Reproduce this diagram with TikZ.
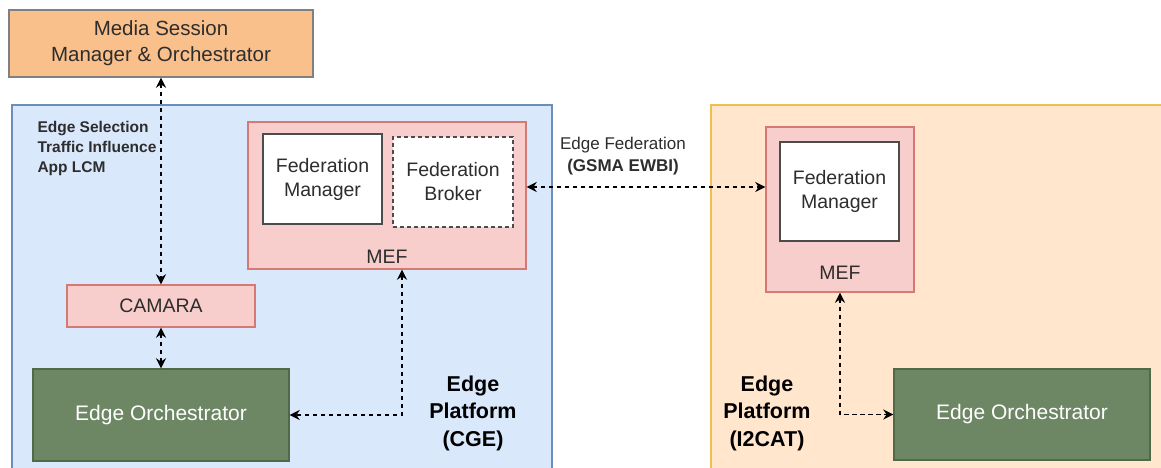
\documentclass[tikz,border=0pt]{standalone}
\usepackage{fontspec}
\setmainfont{Liberation Sans}
\usetikzlibrary{arrows.meta}

\definecolor{msmofill}{RGB}{250,192,140}
\definecolor{cgefill}{RGB}{218,232,252}
\definecolor{cgeline}{RGB}{108,142,191}
\definecolor{ictfill}{RGB}{255,230,204}
\definecolor{ictline}{RGB}{238,190,80}
\definecolor{meffill}{RGB}{248,206,204}
\definecolor{mefline}{RGB}{214,120,116}
\definecolor{eofill}{RGB}{109,135,100}
\definecolor{eoline}{RGB}{80,105,72}
\definecolor{txtgray}{RGB}{45,45,45}

\begin{document}
\begin{tikzpicture}[x=1pt, y=-1pt,
  box/.style={draw=#1, line width=1.4pt, text=txtgray, align=center, inner sep=0pt,
    font=\fontsize{19.5}{24}\selectfont},
  mef/.style={box=mefline, fill=meffill},
  eo/.style={box=eoline, fill=eofill, text=white, minimum width=256, minimum height=92,
    font=\fontsize{21}{24}\selectfont},
  fm/.style={box=black!70, fill=white, minimum width=119},
  plat/.style={text=black, align=center, font=\fontsize{21.5}{27.5}\selectfont\bfseries},
  link/.style={black, line width=1.8pt, dash pattern=on 4.5pt off 3.5pt,
    {Stealth[length=10pt,width=10pt]}-{Stealth[length=10pt,width=10pt]}}]

\clip (0,0) rectangle (1161,468);
\fill[white] (0,0) rectangle (1161,468);

%% the two edge platforms
\filldraw[fill=cgefill, draw=cgeline, line width=1.2pt] (12,105) rectangle (552,490);
\filldraw[fill=ictfill, draw=ictline, line width=1.2pt] (711,105) rectangle (1180,490);

\path
(161,43.5) node[box=gray, fill=msmofill, minimum width=304, minimum height=67,
  font=\fontsize{20.5}{26}\selectfont] (msmo) {Media Session\\Manager \& Orchestrator}
(161,306) node[mef, minimum width=188, minimum height=42] (camara) {CAMARA}
(161,415) node[eo] (eo1) {Edge Orchestrator}
(1022,414.5) node[eo, minimum height=91] (eo2) {Edge Orchestrator};

%% MEF of CGE, with manager and broker
\path
(387,195.5) node[mef, minimum width=278, minimum height=147] (mef1) {}
(322.5,179) node[fm, minimum height=90] (fm1) {Federation\\Manager}
(453,182) node[box=black!70, fill=white, dashed, dash pattern=on 4pt off 3pt,
  minimum width=120, minimum height=90] (fb) {Federation\\Broker}
(387,257) node[text=txtgray, font=\fontsize{19.5}{24}\selectfont] (mef1lbl) {MEF};

%% MEF of I2CAT
\path
(840,209.5) node[mef, minimum width=148, minimum height=165] (mef2) {}
(839.5,191.5) node[fm, minimum height=99] (fm2) {Federation\\Manager}
(840,273) node[text=txtgray, font=\fontsize{19.5}{24}\selectfont] (mef2lbl) {MEF};

%% labels
\node[anchor=west, align=left, text=txtgray, font=\fontsize{15.5}{20}\selectfont\bfseries]
  (apis) at (34,148) {Edge Selection\\Traffic Influence\\App LCM};
\node[align=center, text=txtgray, font=\fontsize{17}{22}\selectfont]
  (fedlbl) at (623,156) {Edge Federation\\\textbf{(GSMA EWBI)}};
\node[plat] (cgelbl) at (473,413) {Edge\\Platform\\(CGE)};
\node[plat] (ictlbl) at (767,413) {Edge\\Platform\\(I2CAT)};

%% connectors
\draw[link] (msmo) -- (camara);
\draw[link] (camara) -- (eo1);
\draw[link] ([xshift=15pt]mef1.south) |- (eo1.east);
\coordinate (fed) at ([yshift=8.5pt]mef1.east);
\draw[link] (fed) -- (fed -| mef2.west);
\draw[link] (mef2.south) |- (eo2.west);

\end{tikzpicture}
\end{document}
